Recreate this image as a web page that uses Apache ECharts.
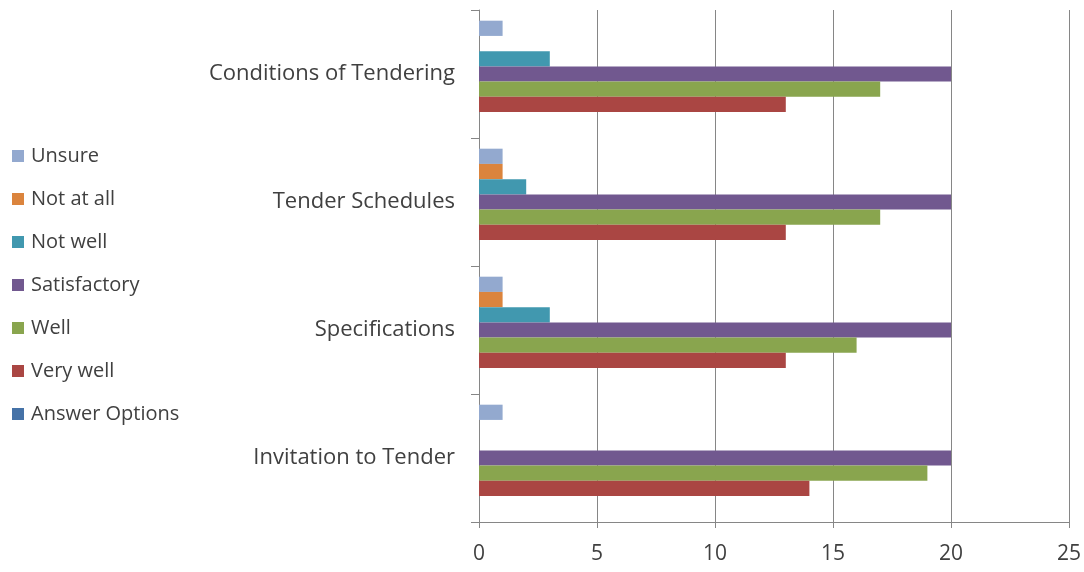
<!DOCTYPE html>
<html>
<head>
<meta charset="utf-8">
<script src="https://cdn.jsdelivr.net/npm/echarts@6/dist/echarts.min.js"></script>
<style>html,body{margin:0;padding:0;background:#fff;}#c{width:1084px;height:572px;}</style>
</head>
<body>
<div id="c"></div>
<script>
const categories = ['Invitation to Tender', 'Specifications', 'Tender Schedules', 'Conditions of Tendering'];
const seriesNames = ['Unsure', 'Not at all', 'Not well', 'Satisfactory', 'Well', 'Very well', 'Answer Options'];
const unsure = [1, 1, 1, 1];
const notAtAll = [0, 1, 1, 0];
const notWell = [0, 3, 2, 3];
const satisfactory = [20, 20, 20, 20];
const well = [19, 16, 17, 17];
const veryWell = [14, 13, 13, 13];
const answerOptions = [0, 0, 0, 0];
const xTicks = [0, 5, 10, 15, 20, 25];

const seriesData = [unsure, notAtAll, notWell, satisfactory, well, veryWell, answerOptions];
const colors = ['#93A9CF', '#DB843D', '#4198AF', '#71588F', '#89A54E', '#AA4643', '#4572A7'];
const FONT = '"Open Sans", "Noto Sans", sans-serif';

const chart = echarts.init(document.getElementById('c'), null, {renderer: 'canvas'});
chart.setOption({
  animation: false,
  backgroundColor: '#ffffff',
  color: colors,
  textStyle: {fontFamily: FONT},
  legend: {
    orient: 'vertical',
    left: 7,
    top: 141,
    data: seriesNames,
    icon: 'rect',
    itemWidth: 12,
    itemHeight: 12,
    itemGap: 23,
    textStyle: {fontFamily: FONT, fontSize: 20, color: '#404040', lineHeight: 20, padding: [0, 0, 0, 2]}
  },
  grid: {left: 479, right: 15, top: 10, bottom: 50, containLabel: false},
  xAxis: {
    type: 'value',
    min: xTicks[0],
    max: xTicks[xTicks.length - 1],
    interval: 5,
    axisLine: {show: true, lineStyle: {color: '#868686', width: 1}},
    axisTick: {show: true, length: 6, lineStyle: {color: '#868686'}},
    splitLine: {show: true, lineStyle: {color: '#868686', width: 1}},
    axisLabel: {fontFamily: FONT, fontSize: 21, color: '#404040', margin: 22}
  },
  yAxis: {
    type: 'category',
    data: categories,
    axisLine: {show: true, lineStyle: {color: '#868686', width: 1}},
    axisTick: {show: true, length: 8, interval: 0, lineStyle: {color: '#868686'}},
    axisLabel: {fontFamily: FONT, fontSize: 22, color: '#404040', margin: 24}
  },
  series: seriesNames.map((n, i) => ({
    name: n,
    type: 'bar',
    data: seriesData[i],
    barGap: '0%',
    barCategoryGap: '16.7%',
    itemStyle: {color: colors[i]}
  }))
});
</script>
</body>
</html>
